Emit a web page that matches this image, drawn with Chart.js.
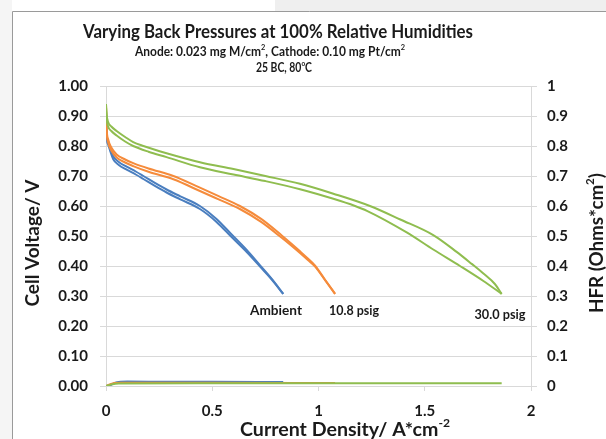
<!DOCTYPE html>
<html>
<head>
<meta charset="utf-8">
<script src="https://cdn.jsdelivr.net/npm/chart.js@4/dist/chart.umd.min.js"></script>
<style>
html,body{margin:0;padding:0;background:#fff;overflow:hidden;}
#wrap{position:relative;width:606px;height:439px;}
canvas{position:absolute;left:0;top:0;}
</style>
</head>
<body>
<div id="wrap"><canvas id="c" width="606" height="439"></canvas></div>
<script>
// ---- Data ----
const xTicks = [0, 0.5, 1, 1.5, 2];
const pressureLabels = ["Ambient", "10.8 psig", "30.0 psig"];

// Ambient – two sweeps
const ambientJ   = [0, 0.003, 0.01, 0.02, 0.034, 0.06, 0.097, 0.14, 0.176, 0.23, 0.285, 0.35, 0.442, 0.52, 0.59, 0.66, 0.725, 0.78, 0.834];
const ambientV1  = [0.92, 0.84, 0.815, 0.793, 0.766, 0.747, 0.731, 0.715, 0.70, 0.677, 0.655, 0.632, 0.60, 0.557, 0.506, 0.455, 0.402, 0.357, 0.307];
const ambientV2  = [0.91, 0.83, 0.805, 0.783, 0.756, 0.737, 0.721, 0.705, 0.69, 0.667, 0.645, 0.622, 0.59, 0.547, 0.497, 0.448, 0.398, 0.355, 0.307];

// 10.8 psig – two sweeps
const psig108J   = [0, 0.003, 0.011, 0.025, 0.05, 0.09, 0.128, 0.2, 0.317, 0.442, 0.53, 0.63, 0.73, 0.827, 0.87, 0.913, 0.95, 0.983, 1.03, 1.078];
const psig108V1  = [0.94, 0.86, 0.82, 0.795, 0.772, 0.755, 0.743, 0.725, 0.70, 0.661, 0.633, 0.60, 0.557, 0.502, 0.476, 0.449, 0.425, 0.402, 0.355, 0.307];
const psig108V2  = [0.93, 0.85, 0.81, 0.785, 0.762, 0.745, 0.733, 0.714, 0.689, 0.65, 0.622, 0.59, 0.547, 0.494, 0.469, 0.443, 0.42, 0.399, 0.354, 0.307];

// 30.0 psig – two sweeps
const psig300J1  = [0, 0.003, 0.01, 0.025, 0.05, 0.09, 0.128, 0.176, 0.285, 0.442, 0.6, 0.75, 0.913, 1.07, 1.242, 1.385, 1.54, 1.65, 1.721, 1.776, 1.83, 1.862];
const psig300V1  = [0.94, 0.905, 0.88, 0.865, 0.85, 0.83, 0.813, 0.80, 0.776, 0.746, 0.723, 0.70, 0.674, 0.641, 0.60, 0.555, 0.503, 0.447, 0.407, 0.375, 0.34, 0.307];
const psig300J2  = [0, 0.003, 0.01, 0.025, 0.05, 0.09, 0.128, 0.2, 0.285, 0.442, 0.6, 0.75, 0.913, 1.07, 1.172, 1.228, 1.415, 1.54, 1.666, 1.776, 1.862];
const psig300V2  = [0.93, 0.89, 0.865, 0.85, 0.835, 0.815, 0.80, 0.781, 0.763, 0.729, 0.705, 0.683, 0.656, 0.624, 0.60, 0.584, 0.512, 0.455, 0.40, 0.35, 0.307];

// HFR (right axis)
const hfrAmbientJ = [0, 0.02, 0.04, 0.07, 0.1, 0.3, 0.5, 0.834];
const hfrAmbient  = [0, 0.003, 0.01, 0.014, 0.015, 0.014, 0.014, 0.013];
const hfr108J     = [0, 0.02, 0.04, 0.07, 0.5, 1.078];
const hfr108      = [0, 0.006, 0.01, 0.011, 0.011, 0.010];
const hfr300J     = [0, 0.03, 0.06, 0.5, 1.0, 1.862];
const hfr300      = [0, 0.006, 0.008, 0.009, 0.009, 0.009];

// ---- Styling ----
const BLUE = '#4a7ebf', ORANGE = '#f58b3b', GREEN = '#8fbd4f';
const GRID = '#d9d9d9', TXT = '#1a1a1a';
const FONT = 'Lato, "Open Sans", sans-serif';

const pts = (xs, ys) => xs.map((x, i) => ({x: x, y: ys[i]}));
const line = (data, color, axis) => ({
  data: data, borderColor: color, backgroundColor: color, showLine: true,
  pointRadius: 0, borderWidth: 2, cubicInterpolationMode: 'monotone',
  yAxisID: axis || 'y', fill: false
});

// draws text (with optional superscripts), squeezed horizontally to a target width
function drawRich(ctx, parts, x, y, size, width) {
  let total = 0;
  const widths = parts.map(p => {
    ctx.font = 'bold ' + (p[1] ? size * 0.62 : size) + 'px ' + FONT;
    const w = ctx.measureText(p[0]).width; total += w; return w;
  });
  const sx = width ? width / total : 1;
  ctx.save();
  ctx.translate(x, y);
  ctx.scale(sx, 1);
  let cx = -total / 2;
  parts.forEach((p, i) => {
    ctx.font = 'bold ' + (p[1] ? size * 0.62 : size) + 'px ' + FONT;
    ctx.fillText(p[0], cx, p[1] ? -size * 0.38 : 0);
    cx += widths[i];
  });
  ctx.restore();
}

const textPlugin = {
  id: 'texts',
  afterDraw(chart) {
    const ctx = chart.ctx;
    const xs = chart.scales.x, ys = chart.scales.y;
    ctx.save();
    ctx.fillStyle = TXT;
    ctx.textAlign = 'left';
    ctx.textBaseline = 'middle';
    drawRich(ctx, [["Varying Back Pressures at 100% Relative Humidities"]], 278, 32, 19, 390);
    drawRich(ctx, [["Anode: 0.023 mg M/cm"], ["2", 1], [", Cathode: 0.10 mg Pt/cm"], ["2", 1]], 270, 52, 13.5, 270);
    drawRich(ctx, [["25 BC, 80"], ["o", 1], ["C"]], 284, 68, 13.5, 56);
    drawRich(ctx, [["Current Density/ A*cm"], ["-2", 1]], 345, 430, 19, 210);
    ctx.save(); ctx.translate(33, 243); ctx.rotate(-Math.PI / 2);
    drawRich(ctx, [["Cell Voltage/ V"]], 0, 0, 19, 127);
    ctx.restore();
    ctx.save(); ctx.translate(597, 243); ctx.rotate(-Math.PI / 2);
    drawRich(ctx, [["HFR (Ohms*cm"], ["2", 1], [")"]], 0, 0, 19, 140);
    ctx.restore();
    const lblJ = [0.80, 1.167, 1.854], lblV = [0.25, 0.25, 0.237], lblW = [52, 50, 51];
    pressureLabels.forEach((t, i) => {
      drawRich(ctx, [[t]], xs.getPixelForValue(lblJ[i]), ys.getPixelForValue(lblV[i]), 13, lblW[i]);
    });
    ctx.restore();
  },
  beforeDraw(chart) {
    const ctx = chart.ctx;
    ctx.save();
    ctx.fillStyle = '#ffffff'; ctx.fillRect(0, 0, 606, 439);
    ctx.fillStyle = '#efefef'; ctx.fillRect(275, 0, 331, 11);
    ctx.fillStyle = '#f5f5f5'; ctx.fillRect(0, 0, 12, 439);
    ctx.strokeStyle = '#9a9a9a'; ctx.lineWidth = 1;
    ctx.beginPath(); ctx.moveTo(12.5, 439); ctx.lineTo(12.5, 11.5); ctx.lineTo(606, 11.5); ctx.stroke();
    ctx.restore();
  }
};

const tickFont = {family: FONT, size: 15, weight: 'bold'};

new Chart(document.getElementById('c'), {
  type: 'scatter',
  data: {
    datasets: [
      line(pts(psig300J1, psig300V1), GREEN),
      line(pts(psig300J2, psig300V2), GREEN),
      line(pts(psig108J, psig108V1), ORANGE),
      line(pts(psig108J, psig108V2), ORANGE),
      line(pts(ambientJ, ambientV1), BLUE),
      line(pts(ambientJ, ambientV2), BLUE),
      line(pts(hfr300J, hfr300), GREEN, 'y2'),
      line(pts(hfr108J, hfr108), ORANGE, 'y2'),
      line(pts(hfrAmbientJ, hfrAmbient), BLUE, 'y2')
    ]
  },
  options: {
    responsive: false, animation: false, devicePixelRatio: 1,
    layout: {padding: {top: 86, left: 0, right: 0, bottom: 0}},
    plugins: {legend: {display: false}, tooltip: {enabled: false}, title: {display: false}},
    scales: {
      x: {
        type: 'linear', min: 0, max: 2,
        afterBuildTicks: s => { s.ticks = xTicks.map(v => ({value: v})); },
        ticks: {font: tickFont, color: TXT, padding: 11, maxRotation: 0, callback: v => String(v)},
        grid: {drawOnChartArea: false, drawTicks: true, tickLength: 5, color: GRID},
        border: {color: GRID},
        afterFit: s => { s.height = 53; }
      },
      y: {
        position: 'left', min: 0, max: 1,
        ticks: {stepSize: 0.1, font: tickFont, color: TXT, padding: 12, callback: v => v.toFixed(2)},
        grid: {color: GRID, tickLength: 6},
        border: {color: GRID},
        afterFit: s => { s.width = 106; }
      },
      y2: {
        position: 'right', min: 0, max: 1,
        ticks: {stepSize: 0.1, font: tickFont, color: TXT, padding: 10, callback: v => String(Math.round(v * 10) / 10)},
        grid: {drawOnChartArea: false, color: GRID, tickLength: 6},
        border: {color: GRID},
        afterFit: s => { s.width = 75; }
      }
    }
  },
  plugins: [textPlugin]
});
</script>
</body>
</html>
